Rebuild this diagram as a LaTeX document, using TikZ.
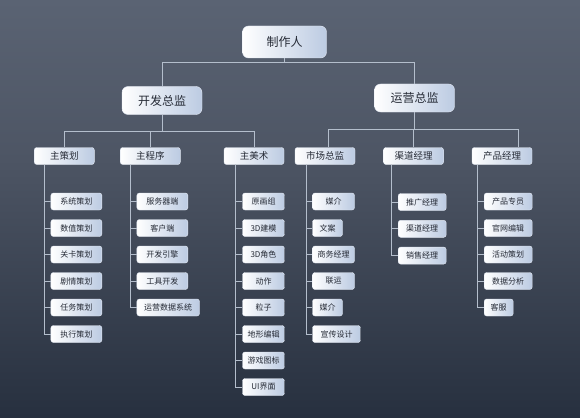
\documentclass[tikz,border=0pt]{standalone}
\usepackage{fontspec}
\newfontfamily\cjk{Noto Sans CJK SC}
\definecolor{fondhaut}{HTML}{5A6373}
\definecolor{fondmid}{HTML}{4D5564}
\definecolor{fondbas}{HTML}{27303F}
\definecolor{boxblue}{HTML}{BCCBE2}
\definecolor{boxline}{HTML}{E2E8F2}
\definecolor{linkgrey}{HTML}{B4BECC}
\definecolor{textgrey}{HTML}{252A35}
\tikzset{
  cell/.style={draw=boxline, line width=0.4pt, rounded corners=2.5pt, left color=white, right color=boxblue,
    text=textgrey, inner sep=0pt, minimum height=17pt, font=\cjk\fontsize{8}{8}\selectfont},
  lead/.style={cell, minimum width=60pt, font=\cjk\fontsize{9.5}{9.5}\selectfont},
  chief/.style={cell, rounded corners=6pt, minimum width=80pt, minimum height=28pt, font=\cjk\fontsize{12}{12}\selectfont},
  link/.style={draw=linkgrey, line width=0.8pt}
}
\begin{document}
\begin{tikzpicture}[x=1pt,y=-1pt]
% fond
\fill [top color=fondhaut, bottom color=fondmid] (0,0) rectangle (580,160);
\fill [top color=fondmid, bottom color=fondbas] (0,159.5) rectangle (580,417);
\useasboundingbox (0,0) rectangle (580,417);
% sommet
\node [chief, minimum width=84pt, minimum height=32pt] (boss) at (284.5,42) {制作人};
\node [chief] (dev) at (162,100.5) {开发总监};
\node [chief] (ops) at (414.5,98) {运营总监};
\coordinate (bar0) at (0,62.7);
\draw [link] (boss.south) -- (boss.south |- bar0);
\draw [link] (dev.north) -- (dev.north |- bar0) -- (ops.north |- bar0) -- (ops.north);
% second niveau
\node [lead] (zc) at (64.3,156) {主策划};
\node [lead] (zp) at (150.3,156) {主程序};
\node [lead] (zm) at (254,156) {主美术};
\node [lead] (sc) at (325,156) {市场总监};
\node [lead] (qd) at (413.5,156) {渠道经理};
\node [lead] (cp) at (502,156) {产品经理};
\coordinate (bar1) at (0,131);
\coordinate (bar2) at (0,129);
\draw [link] (dev.south) -- (dev.south |- bar1);
\draw [link] (zc.north) -- (zc.north |- bar1) -- (zm.north |- bar1) -- (zm.north);
\draw [link] (zp.north) -- (zp.north |- bar1);
\coordinate (scn) at ([xshift=3pt]sc.north);
\coordinate (cpn) at ([xshift=16pt]cp.north);
\draw [link] (ops.south) -- (ops.south |- bar2);
\draw [link] (scn) -- (scn |- bar2) -- (cpn |- bar2) -- (cpn);
\draw [link] (qd.north) -- (qd.north |- bar2);
% colonnes
\coordinate (zcs) at (44,164.5);
\foreach \t/\w [count=\i] in {系统策划/51, 数值策划/51, 关卡策划/51, 剧情策划/51, 任务策划/51, 执行策划/51} {
  \node [cell, minimum width=\w pt, anchor=west] (zc\i) at (50.7,{201.5+26.5*(\i-1)}) {\t};
  \draw [link] (zcs) |- (zc\i.west);
}
\coordinate (zps) at (130,164.5);
\foreach \t/\w [count=\i] in {服务器端/51, 客户端/51, 开发引擎/51, 工具开发/51, 运营数据系统/62.6} {
  \node [cell, minimum width=\w pt, anchor=west] (zp\i) at (136.7,{201.5+26.5*(\i-1)}) {\t};
  \draw [link] (zps) |- (zp\i.west);
}
\coordinate (zms) at (235.7,164.5);
\foreach \t/\w [count=\i] in {原画组/42, 3D建模/42, 3D角色/42, 动作/42, 粒子/42, 地形编辑/42, 游戏图标/42, UI界面/42} {
  \node [cell, minimum width=\w pt, anchor=west] (zm\i) at (242.3,{201.5+26.5*(\i-1)}) {\t};
  \draw [link] (zms) |- (zm\i.west);
}
\coordinate (scs) at (306,164.5);
\foreach \t/\w [count=\i] in {媒介/42, 文案/30, 商务经理/42, 联运/42, 媒介/30, 宣传设计/48} {
  \node [cell, minimum width=\w pt, anchor=west] (sc\i) at (312.3,{201.5+26.5*(\i-1)}) {\t};
  \draw [link] (scs) |- (sc\i.west);
}
\coordinate (qds) at (391.7,164.5);
\foreach \t/\w [count=\i] in {推广经理/48, 渠道经理/48, 销售经理/48} {
  \node [cell, minimum width=\w pt, anchor=west] (qd\i) at (398,{202+26.8*(\i-1)}) {\t};
  \draw [link] (qds) |- (qd\i.west);
}
\coordinate (cps) at (477.3,164.5);
\foreach \t/\w [count=\i] in {产品专员/48, 官网编辑/48, 活动策划/48, 数据分析/48, 客服/29} {
  \node [cell, minimum width=\w pt, anchor=west] (cp\i) at (484,{201.5+26.5*(\i-1)}) {\t};
  \draw [link] (cps) |- (cp\i.west);
}
\end{tikzpicture}
\end{document}
